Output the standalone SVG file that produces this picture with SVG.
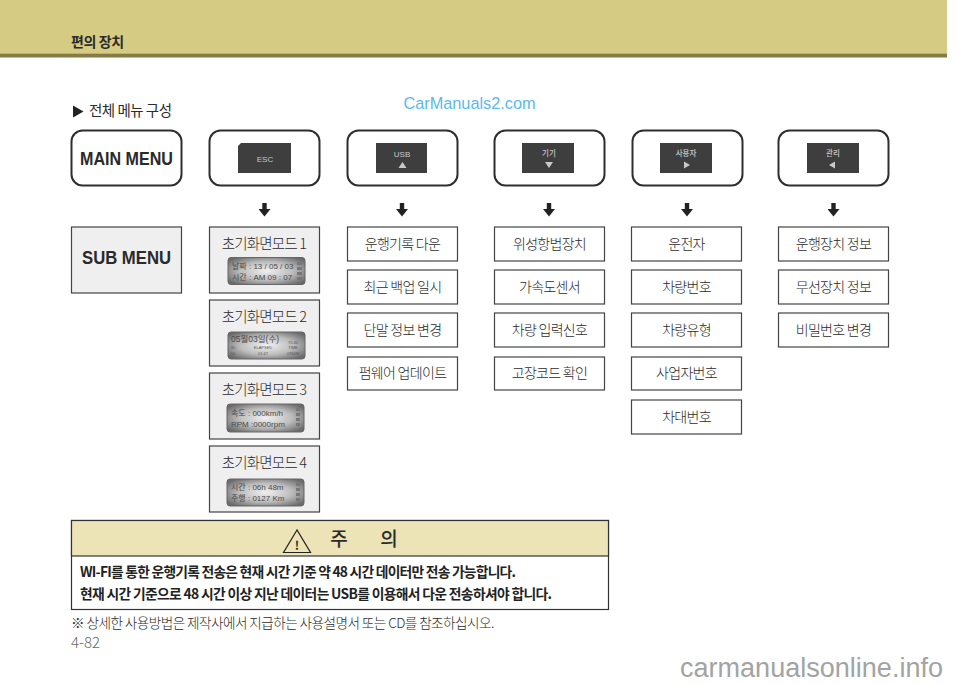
<svg xmlns="http://www.w3.org/2000/svg" width="960" height="685" viewBox="0 0 960 685">
<style>
text{font-family:"Noto Sans CJK KR","Liberation Sans",sans-serif;fill:#2b2b2b;text-anchor:middle}
.l{text-anchor:start}
.main{fill:#fff;stroke:#2e2e2e;stroke-width:2}
.sub{fill:#fff;stroke:#444;stroke-width:1.2}
.gray{fill:#efeff0;stroke:#444;stroke-width:1.2}
.t{font-size:14px;letter-spacing:-.7px;font-weight:300}
.scr{font-size:14.5px;letter-spacing:-.8px;font-weight:300}
.en{font-family:"Liberation Sans",sans-serif;font-weight:700;font-size:18.5px;fill:#2a2a2a}
.btn{fill:#3e3e3e}
.bt{font-size:7.5px;fill:#c9c9c9;font-weight:500}
.tri{fill:#c9c9c9}
.lcd{fill:url(#silver);stroke:#666;stroke-width:1}
.lt{font-family:"Liberation Sans","Noto Sans CJK KR",sans-serif;font-size:8px;fill:#4a4a4a;text-anchor:start}
.ls{font-family:"Liberation Sans",sans-serif;font-size:4px;fill:#555;text-anchor:middle}
.arr{stroke:#222;stroke-width:4.4;fill:none;marker-end:url(#down)}
.warn{font-size:13.8px;font-weight:700;text-anchor:start;fill:#222}
.dot{fill:#777}
</style>
<defs>
<radialGradient id="silver" cx=".5" cy=".5" r=".62">
<stop offset="0" stop-color="#f0f0f0"/><stop offset=".55" stop-color="#bdbdbd"/><stop offset="1" stop-color="#6a6a6a"/>
</radialGradient>
<marker id="down" markerUnits="userSpaceOnUse" markerWidth="12" markerHeight="8" refX="6" refY="0" orient="0" viewBox="0 0 12 8"><path d="M0 0H12L6 7.500Z" fill="#222"/></marker>
</defs>
<rect x="0" y="0" width="947" height="53.500" fill="#d5cb82"/>
<rect x="0" y="53.500" width="947" height="4" fill="#857c45"/>
<text class="l" x="71" y="46.500" font-size="14" font-weight="700" letter-spacing="-.4">편의 장치</text>
<path d="M73 105.500L83.500 111.500L73 117.500Z" fill="#222"/>
<text class="l" x="89" y="116" font-size="14.500" font-weight="400" letter-spacing="-.5">전체 메뉴 구성</text>
<text x="469.500" y="108.500" style="font-family:'Liberation Sans',sans-serif;font-size:16.300px;fill:#5ab9ee">CarManuals2.com</text>

<g id="connectors">
<path class="arr" d="M264.500 203V209"/>
<path class="arr" d="M402 203V209"/>
<path class="arr" d="M549 203V209"/>
<path class="arr" d="M687 203V209"/>
<path class="arr" d="M833.500 203V209"/>
</g>

<g id="main-menu"><rect class="main" x="71.500" y="130.500" width="110" height="55" rx="11"/><text class="en" x="126.500" y="165" textLength="93" lengthAdjust="spacingAndGlyphs">MAIN MENU</text></g>
<g id="btn-esc"><rect class="main" x="209.500" y="130.500" width="110" height="55" rx="11"/><path class="btn" d="M241 143H291V173H238V146Z"/><text class="bt" x="265" y="161.500" style="font-family:'Liberation Sans',sans-serif;font-size:8px">ESC</text></g>
<g id="btn-usb"><rect class="main" x="347.500" y="130.500" width="110" height="55" rx="11"/><rect class="btn" x="376" y="143" width="51" height="30"/><text class="bt" x="402" y="157" style="font-family:'Liberation Sans',sans-serif;font-size:8px">USB</text><path class="tri" d="M402.500 162L406.500 168H398.500Z"/></g>
<g id="btn-device"><rect class="main" x="494.500" y="130.500" width="110" height="55" rx="11"/><rect class="btn" x="522" y="143" width="52" height="30"/><text class="bt" x="549" y="156">기기</text><path class="tri" d="M549 168L545 162H553Z"/></g>
<g id="btn-user"><rect class="main" x="632.500" y="130.500" width="110" height="55" rx="11"/><rect class="btn" x="660" y="143" width="52" height="30"/><text class="bt" x="686" y="156">사용자</text><path class="tri" d="M690 165L684 161.500V168.500Z"/></g>
<g id="btn-admin"><rect class="main" x="778.500" y="130.500" width="110" height="55" rx="11"/><rect class="btn" x="807" y="143" width="52" height="30"/><text class="bt" x="833" y="156">관리</text><path class="tri" d="M829 165L835 161.500V168.500Z"/></g>

<g id="sub-menu"><rect class="gray" x="71.500" y="227" width="110" height="66"/><text class="en" x="126.500" y="264" textLength="89" lengthAdjust="spacingAndGlyphs">SUB MENU</text></g>

<g id="screen-1"><rect class="gray" x="209.500" y="227" width="110" height="66"/><text class="scr" x="264" y="249">초기화면모드 1</text><rect class="lcd" x="228" y="257.500" width="77" height="27" rx="3"/><text class="lt" x="232" y="269">날짜 : 13 / 05 / 03</text><text class="lt" x="232" y="280">시간 : AM  09 : 07</text><path class="dot" d="M297 262h5v3h-5zM297 267h5v3h-5zM297 272h5v3h-5zM297 277h5v3h-5z"/></g>
<g id="screen-2"><rect class="gray" x="209.500" y="300" width="110" height="66"/><text class="scr" x="264" y="322">초기화면모드 2</text><rect class="lcd" x="228" y="332" width="77" height="27" rx="3"/><text class="lt" x="231" y="342" style="font-size:8.500px">05월03일(수)</text><text class="ls" x="293" y="344">75:40</text><text class="ls" x="233" y="349">30</text><text class="ls" x="263" y="349">ELAPSED</text><text class="ls" x="293" y="349">TIME</text><text class="ls" x="233" y="355">50</text><text class="ls" x="263" y="355">01:47</text><text class="ls" x="293" y="355">0766M</text></g>
<g id="screen-3"><rect class="gray" x="209.500" y="373" width="110" height="66"/><text class="scr" x="264" y="395">초기화면모드 3</text><rect class="lcd" x="227" y="404" width="77" height="28" rx="3"/><text class="lt" x="231" y="416">속도 : 000km/h</text><text class="lt" x="231" y="427">RPM :0000rpm</text><path class="dot" d="M296 408h4v3h-4zM296 413h4v3h-4zM296 418h4v3h-4zM296 423h4v3h-4z"/></g>
<g id="screen-4"><rect class="gray" x="209.500" y="446" width="110" height="66"/><text class="scr" x="264" y="468">초기화면모드 4</text><rect class="lcd" x="227" y="479" width="77" height="27" rx="3"/><text class="lt" x="231" y="490">시간 : 06h 48m</text><text class="lt" x="231" y="501">주행 : 0127 Km</text><path class="dot" d="M296 483h4v3h-4zM296 488h4v3h-4zM296 493h4v3h-4zM296 498h4v3h-4z"/></g>

<g id="usb-1"><rect class="sub" x="347.500" y="227" width="110" height="34"/><text class="t" x="402.500" y="249">운행기록 다운</text></g>
<g id="usb-2"><rect class="sub" x="347.500" y="270" width="110" height="34"/><text class="t" x="402.500" y="292">최근 백업 일시</text></g>
<g id="usb-3"><rect class="sub" x="347.500" y="313" width="110" height="34"/><text class="t" x="402.500" y="335">단말 정보 변경</text></g>
<g id="usb-4"><rect class="sub" x="347.500" y="357" width="110" height="33"/><text class="t" x="402.500" y="378">펌웨어 업데이트</text></g>

<g id="device-1"><rect class="sub" x="494.500" y="227" width="110" height="34"/><text class="t" x="549.500" y="249">위성항법장치</text></g>
<g id="device-2"><rect class="sub" x="494.500" y="270" width="110" height="34"/><text class="t" x="549.500" y="292">가속도센서</text></g>
<g id="device-3"><rect class="sub" x="494.500" y="313" width="110" height="34"/><text class="t" x="549.500" y="335">차량 입력신호</text></g>
<g id="device-4"><rect class="sub" x="494.500" y="357" width="110" height="33"/><text class="t" x="549.500" y="378">고장코드 확인</text></g>

<g id="user-1"><rect class="sub" x="631.500" y="227" width="110" height="34"/><text class="t" x="686.500" y="249">운전자</text></g>
<g id="user-2"><rect class="sub" x="631.500" y="270" width="110" height="34"/><text class="t" x="686.500" y="292">차량번호</text></g>
<g id="user-3"><rect class="sub" x="631.500" y="313" width="110" height="34"/><text class="t" x="686.500" y="335">차량유형</text></g>
<g id="user-4"><rect class="sub" x="631.500" y="357" width="110" height="33"/><text class="t" x="686.500" y="378">사업자번호</text></g>
<g id="user-5"><rect class="sub" x="631.500" y="400" width="110" height="34"/><text class="t" x="686.500" y="422">차대번호</text></g>

<g id="admin-1"><rect class="sub" x="778.500" y="227" width="110" height="34"/><text class="t" x="833.500" y="249">운행장치 정보</text></g>
<g id="admin-2"><rect class="sub" x="778.500" y="270" width="110" height="34"/><text class="t" x="833.500" y="292">무선장치 정보</text></g>
<g id="admin-3"><rect class="sub" x="778.500" y="313" width="110" height="34"/><text class="t" x="833.500" y="335">비밀번호 변경</text></g>

<g id="caution">
<rect x="71.500" y="520.500" width="537" height="89" fill="#fff" stroke="#333" stroke-width="1.200"/>
<rect x="71.500" y="520.500" width="537" height="35.500" fill="#ece3b6" stroke="#333" stroke-width="1.200"/>
<path d="M297 530L283.500 552.500H310.500Z" fill="none" stroke="#222" stroke-width="1.200"/>
<text x="297" y="549.500" font-size="12" font-weight="700">!</text>
<text x="339" y="546" font-size="19" font-weight="500">주</text>
<text x="389" y="546" font-size="19" font-weight="500">의</text>
<text class="warn" x="80" y="577" textLength="436" lengthAdjust="spacing">WI-FI를 통한 운행기록 전송은 현재 시간 기준 약 48 시간 데이터만 전송 가능합니다.</text>
<text class="warn" x="80" y="599" textLength="472" lengthAdjust="spacing">현재 시간 기준으로 48 시간 이상  지난 데이터는 USB를 이용해서 다운 전송하셔야 합니다.</text>
</g>
<text class="l" x="71" y="628" font-size="13.600" font-weight="300" letter-spacing="-.55">※ 상세한 사용방법은 제작사에서 지급하는 사용설명서 또는 CD를 참조하십시오.</text>
<text class="l" x="71" y="648" font-size="15" font-weight="300" style="fill:#666">4-82</text>
<text x="680" y="677" textLength="263" lengthAdjust="spacingAndGlyphs" style="text-anchor:start;font-family:'Liberation Sans',sans-serif;font-size:27px;fill:#a3a3a3">carmanualsonline.info</text>
</svg>
